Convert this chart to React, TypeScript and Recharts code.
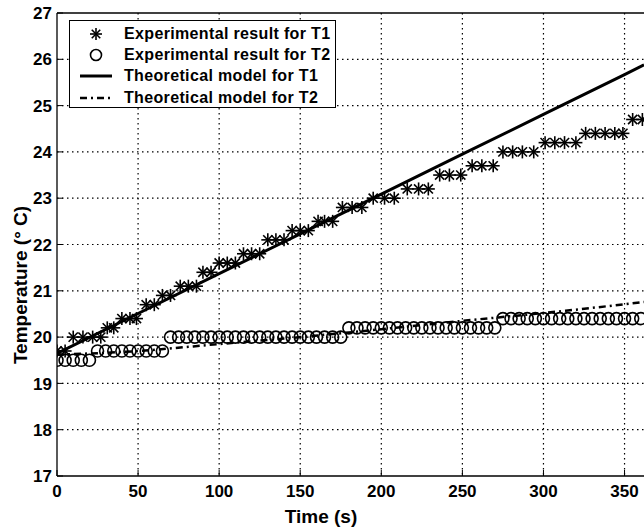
import {
  ComposedChart,
  Line,
  Scatter,
  XAxis,
  YAxis,
  CartesianGrid,
  ReferenceLine,
  Legend,
} from "recharts";

// experimental T1 (asterisks)
const t1Times = [
  0, 5, 10, 16, 22, 27, 31, 35, 40, 45, 49, 55, 60, 65, 70, 76, 81, 86, 90, 95,
  100, 105, 110, 115, 120, 125, 130, 135, 140, 145, 150, 155, 161, 165, 170,
  176, 182, 188, 195, 202, 208, 216, 223, 229, 236, 242, 249, 256, 262, 269,
  275, 281, 287, 294, 301, 307, 313, 320, 326, 332, 338, 344, 349, 355, 361,
];
const t1Values = [
  19.7, 19.7, 20.0, 20.0, 20.0, 20.0, 20.2, 20.2, 20.4, 20.4, 20.4, 20.7, 20.7,
  20.9, 20.9, 21.1, 21.1, 21.1, 21.4, 21.4, 21.6, 21.6, 21.6, 21.8, 21.8, 21.8,
  22.1, 22.1, 22.1, 22.3, 22.3, 22.3, 22.5, 22.5, 22.5, 22.8, 22.8, 22.8, 23.0,
  23.0, 23.0, 23.2, 23.2, 23.2, 23.5, 23.5, 23.5, 23.7, 23.7, 23.7, 24.0, 24.0,
  24.0, 24.0, 24.2, 24.2, 24.2, 24.2, 24.4, 24.4, 24.4, 24.4, 24.4, 24.7, 24.7,
];

// experimental T2 (circles)
const t2Times = [
  0, 5, 10, 15, 20, 25, 30, 35, 40, 45, 50, 55, 60, 65, 70, 75, 80, 85, 90, 95,
  100, 105, 110, 115, 120, 125, 130, 135, 140, 145, 150, 155, 160, 165, 170,
  175, 180, 185, 190, 195, 200, 205, 210, 215, 220, 225, 230, 235, 240, 245,
  250, 255, 260, 265, 270, 275, 280, 285, 290, 295, 300, 305, 310, 315, 320,
  325, 330, 335, 340, 345, 350, 355, 360,
];
const t2Values = [
  19.5, 19.5, 19.5, 19.5, 19.5, 19.7, 19.7, 19.7, 19.7, 19.7, 19.7, 19.7, 19.7,
  19.7, 20.0, 20.0, 20.0, 20.0, 20.0, 20.0, 20.0, 20.0, 20.0, 20.0, 20.0, 20.0,
  20.0, 20.0, 20.0, 20.0, 20.0, 20.0, 20.0, 20.0, 20.0, 20.0, 20.2, 20.2, 20.2,
  20.2, 20.2, 20.2, 20.2, 20.2, 20.2, 20.2, 20.2, 20.2, 20.2, 20.2, 20.2, 20.2,
  20.2, 20.2, 20.2, 20.4, 20.4, 20.4, 20.4, 20.4, 20.4, 20.4, 20.4, 20.4, 20.4,
  20.4, 20.4, 20.4, 20.4, 20.4, 20.4, 20.4, 20.4,
];

// theoretical models
const modelTimes = [0, 50, 100, 150, 200, 250, 300, 350, 362];
const model1Values = [19.65, 20.51, 21.37, 22.23, 23.09, 23.95, 24.81, 25.67, 25.88];
const model2Values = [19.62, 19.7, 19.85, 20.0, 20.17, 20.35, 20.52, 20.71, 20.76];

const xTicks = [0, 50, 100, 150, 200, 250, 300, 350];
const yTicks = [17, 18, 19, 20, 21, 22, 23, 24, 25, 26, 27];

const legendLabels = [
  "Experimental result for T1",
  "Experimental result for T2",
  "Theoretical model for T1",
  "Theoretical model for T2",
];

const exp1 = t1Times.map((t, i) => ({ t, v: t1Values[i] }));
const exp2 = t2Times.map((t, i) => ({ t, v: t2Values[i] }));
const model1 = modelTimes.map((t, i) => ({ t, v: model1Values[i] }));
const model2 = modelTimes.map((t, i) => ({ t, v: model2Values[i] }));

const FONT = '"Liberation Sans", Arial, Helvetica, sans-serif';

function Asterisk({ cx, cy, r = 6.5 }: any) {
  if (cx == null || cy == null) return null;
  const d = r * 0.707;
  return (
    <g stroke="#000" strokeWidth={1.6}>
      <line x1={cx - r} y1={cy} x2={cx + r} y2={cy} />
      <line x1={cx} y1={cy - r} x2={cx} y2={cy + r} />
      <line x1={cx - d} y1={cy - d} x2={cx + d} y2={cy + d} />
      <line x1={cx - d} y1={cy + d} x2={cx + d} y2={cy - d} />
    </g>
  );
}

function Ring({ cx, cy }: any) {
  if (cx == null || cy == null) return null;
  return <circle cx={cx} cy={cy} r={6} fill="none" stroke="#000" strokeWidth={1.6} />;
}

function XTick({ x, y, payload }: any) {
  return (
    <g>
      <line x1={x} x2={x} y1={y} y2={y - 6} stroke="#000" />
      <text
        x={x}
        y={y + 9}
        dy="0.71em"
        textAnchor="middle"
        fontFamily={FONT}
        fontWeight="bold"
        fontSize={17}
        fill="#000"
      >
        {payload.value}
      </text>
    </g>
  );
}

function TopTick({ x, y }: any) {
  return <line x1={x} x2={x} y1={y} y2={y + 6} stroke="#000" />;
}

function YTick({ x, y, payload }: any) {
  return (
    <g>
      <line x1={x} x2={x + 6} y1={y} y2={y} stroke="#000" />
      <text
        x={x - 5}
        y={y}
        dy="0.36em"
        textAnchor="end"
        fontFamily={FONT}
        fontWeight="bold"
        fontSize={17}
        fill="#000"
      >
        {payload.value}
      </text>
    </g>
  );
}

function LegendBox() {
  const icons = [
    <svg width={40} height={20} key="a">
      <Asterisk cx={20} cy={10} r={6} />
    </svg>,
    <svg width={40} height={20} key="b">
      <circle cx={20} cy={10} r={5.5} fill="none" stroke="#000" strokeWidth={1.6} />
    </svg>,
    <svg width={40} height={20} key="c">
      <line x1={4} x2={36} y1={10} y2={10} stroke="#000" strokeWidth={3} />
    </svg>,
    <svg width={40} height={20} key="d">
      <line
        x1={4}
        x2={36}
        y1={10}
        y2={10}
        stroke="#000"
        strokeWidth={2.5}
        strokeDasharray="7 4 2 4"
      />
    </svg>,
  ];
  return (
    <div
      style={{
        width: 267,
        height: 88,
        border: "1.5px solid #000",
        background: "#fff",
        boxSizing: "border-box",
        padding: "2px 0 0 6px",
        fontFamily: FONT,
        fontWeight: "bold",
        fontSize: 16,
        letterSpacing: 0.35,
        color: "#000",
      }}
    >
      {legendLabels.map((label, i) => (
        <div
          key={label}
          style={{ display: "flex", alignItems: "center", height: 21.3, whiteSpace: "nowrap" }}
        >
          {icons[i]}
          <span style={{ marginLeft: 8 }}>{label}</span>
        </div>
      ))}
    </div>
  );
}

export default function App() {
  return (
    <div style={{ position: "absolute", left: 0, top: 0, background: "#fff" }}>
      <ComposedChart
        width={644}
        height={531}
        margin={{ top: 13, right: 0, bottom: 0, left: 0 }}
      >
        <CartesianGrid
          stroke="#000"
          strokeDasharray="1.5 3.5"
          strokeWidth={1.2}
          horizontalValues={[18, 19, 20, 21, 22, 23, 24, 25, 26]}
          verticalValues={[50, 100, 150, 200, 250, 300, 350]}
        />
        <XAxis
          dataKey="t"
          type="number"
          domain={[0, 362]}
          ticks={xTicks}
          allowDataOverflow
          height={55}
          stroke="#000"
          strokeWidth={1.3}
          tickLine={false}
          tickSize={0}
          tickMargin={0}
          tick={<XTick />}
          label={{
            content: () => (
              <text
                x={321}
                y={516}
                textAnchor="middle"
                dominantBaseline="central"
                fontFamily={FONT}
                fontWeight="bold"
                fontSize={19}
                fill="#000"
              >
                Time (s)
              </text>
            ),
          }}
        />
        <XAxis
          xAxisId="top"
          orientation="top"
          dataKey="t"
          type="number"
          domain={[0, 362]}
          ticks={xTicks}
          height={0}
          axisLine={false}
          tickLine={false}
          tickSize={0}
          tickMargin={0}
          tick={<TopTick />}
        />
        <YAxis
          type="number"
          domain={[17, 27]}
          ticks={yTicks}
          width={57}
          stroke="#000"
          strokeWidth={1.3}
          tickLine={false}
          tickSize={0}
          tickMargin={0}
          tick={<YTick />}
          label={{
            content: () => (
              <text
                x={20}
                y={285}
                transform="rotate(-90 20 285)"
                textAnchor="middle"
                dominantBaseline="central"
                fontFamily={FONT}
                fontWeight="bold"
                fontSize={19}
                fill="#000"
              >
                Temperature (° C)
              </text>
            ),
          }}
        />
        <ReferenceLine y={27} stroke="#000" strokeWidth={1.3} />
        <Line
          data={model1}
          dataKey="v"
          type="linear"
          stroke="#000"
          strokeWidth={3}
          dot={false}
          isAnimationActive={false}
        />
        <Line
          data={model2}
          dataKey="v"
          type="monotone"
          stroke="#000"
          strokeWidth={2.5}
          strokeDasharray="7 4 2 4"
          dot={false}
          isAnimationActive={false}
        />
        <Scatter
          data={exp1}
          dataKey="v"
          shape={(p: any) => <Asterisk cx={p.cx} cy={p.cy} />}
          isAnimationActive={false}
        />
        <Scatter
          data={exp2}
          dataKey="v"
          shape={(p: any) => <Ring cx={p.cx} cy={p.cy} />}
          isAnimationActive={false}
        />
        <Legend
          layout="vertical"
          align="center"
          verticalAlign="middle"
          wrapperStyle={{ left: 69, top: 20, width: "auto" }}
          content={() => <LegendBox />}
        />
      </ComposedChart>
    </div>
  );
}
